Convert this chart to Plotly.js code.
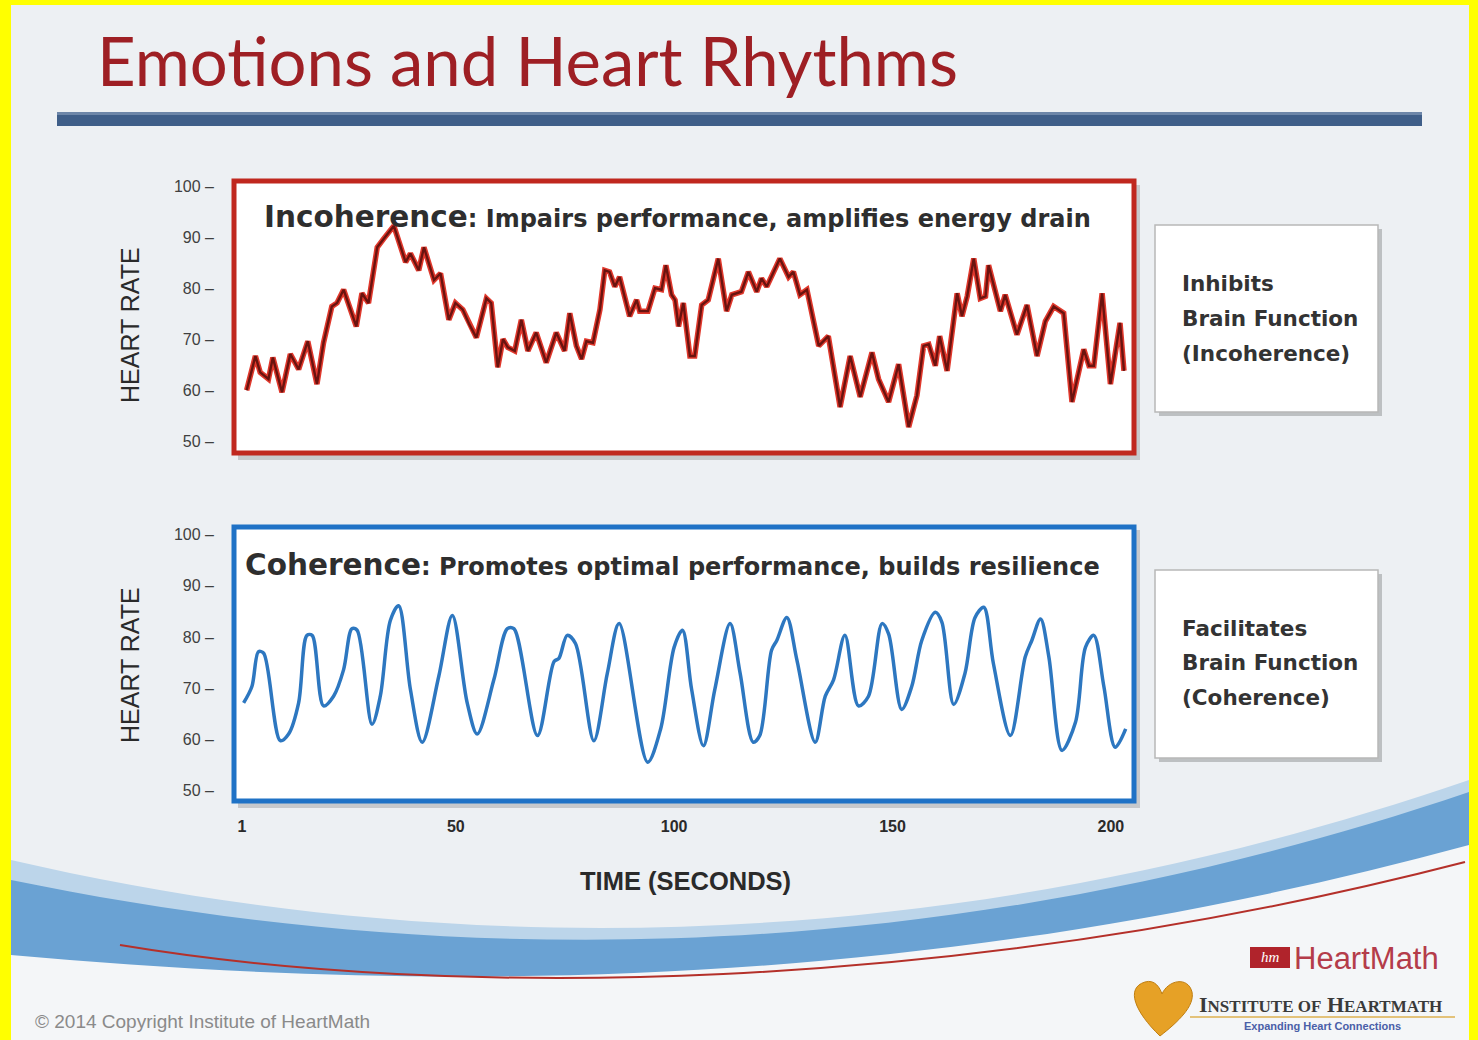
<!DOCTYPE html>
<html>
<head>
<meta charset="utf-8">
<script src="https://cdn.plot.ly/plotly-3.0.1.min.js"></script>
<style>html,body{margin:0;padding:0;background:#ffff00;}#chart{width:1478px;height:1040px;}</style>
</head>
<body>
<div id="chart"></div>
<script>
// ---- data ----
const incoTime = [2.1,4.1,5.2,7.1,8.1,10.2,12.1,14.0,16.1,18.2,19.7,21.6,22.8,24.3,27.2,28.5,30.0,32.0,33.5,35.8,38.5,39.6,41.5,42.7,45.0,46.5,48.4,49.9,51.6,53.1,54.7,57.0,58.1,59.6,60.8,61.9,63.5,65.0,66.5,68.4,70.7,73.0,74.9,76.1,77.6,78.8,79.9,81.4,83.0,84.1,85.2,86.4,87.5,89.8,91.4,92.1,94.0,95.6,97.1,98.1,99.4,100.2,101.0,102.1,103.6,104.7,106.3,107.8,110.1,112.0,113.2,115.4,117.0,118.9,120.0,121.2,124.2,126.2,127.3,128.8,130.4,133.1,135.3,138.0,140.3,142.6,145.3,146.8,149.1,151.4,153.7,155.6,157.1,158.3,159.8,160.8,162.5,164.8,165.9,167.1,168.6,170.1,171.3,172.0,174.7,175.8,178.5,180.8,183.1,185.0,186.9,189.2,191.1,193.8,195.0,196.1,198.0,199.9,202.1,203.0];
const incoHR = [60.0,66.7,63.5,62.2,66.4,59.6,67.1,64.1,69.6,61.2,69.3,76.4,77.1,79.7,72.5,79.0,77.1,88.0,89.7,92.2,85.1,86.8,83.5,88.0,81.6,82.9,73.8,77.1,75.8,72.9,70.3,78.0,77.1,64.5,70.0,68.4,67.7,73.8,67.7,71.3,65.4,71.3,67.7,75.1,68.7,66.1,69.6,69.3,75.8,83.5,83.2,80.3,82.2,74.5,77.7,75.5,75.5,80.0,79.7,84.5,78.7,77.7,72.5,77.1,66.7,66.7,76.7,77.7,85.8,75.5,78.7,79.3,83.2,79.3,81.9,80.3,85.8,82.2,83.2,78.7,79.7,68.7,70.6,56.7,66.7,58.7,67.4,62.2,57.7,65.1,52.8,59.0,68.7,69.0,64.8,70.6,63.8,79.0,74.5,78.4,85.8,78.0,78.4,84.5,75.5,78.7,70.9,76.7,66.7,73.5,76.4,75.1,57.7,68.0,64.8,64.8,79.0,61.2,73.2,63.8];
const coTime = [1.4,3.3,4.8,6.0,9.8,11.7,14.0,15.9,17.1,19.7,22.0,24.3,26.2,27.4,30.8,32.7,35.0,36.9,39.6,42.3,46.1,49.2,52.6,54.9,58.7,61.8,63.3,68.7,72.5,73.6,75.5,77.4,81.6,84.7,87.4,93.9,96.9,100.0,101.9,104.0,106.7,109.3,112.8,115.1,118.1,119.6,122.3,123.5,125.8,128.1,132.3,134.6,136.5,139.1,142.2,144.5,147.6,149.1,152.1,154.4,156.7,159.8,161.3,164.0,166.6,168.9,170.9,173.1,177.0,180.4,181.9,183.9,185.8,188.8,191.9,194.2,196.1,198.4,201.0,203.4];
const coHR = [67.1,70.3,77.1,76.8,59.7,61.0,67.1,80.3,80.3,66.5,68.4,73.6,81.6,81.3,62.9,68.4,83.2,86.1,69.7,59.4,72.3,84.2,67.1,61.0,71.6,81.6,81.6,60.7,75.2,75.8,80.3,78.7,59.7,72.9,82.6,55.5,62.0,78.0,81.3,69.7,58.7,69.7,82.6,72.9,59.4,60.7,77.4,79.3,83.8,75.5,59.4,68.4,71.6,80.3,66.5,68.4,82.6,80.6,65.8,70.3,79.3,84.8,82.9,66.8,72.9,83.8,85.8,74.8,60.7,76.1,79.3,83.5,76.1,57.8,63.3,78.0,80.3,70.3,58.4,62.0];
const yTicks = [50,60,70,80,90,100];
const yTickText = ["50 –","60 –","70 –","80 –","90 –","100 –"];
const xTicks = [1,50,100,150,200];
const xTickText = ["1","50","100","150","200"];
const titleText = "Emotions and Heart Rhythms";
const incoHead = "<span style='font-size:29.5px'>Incoherence</span>: Impairs performance, amplifies energy drain";
const coHead = "<span style='font-size:29.5px'>Coherence</span>: Promotes optimal performance, builds resilience";
const sideTop = ["Inhibits","Brain Function","(Incoherence)"];
const sideBot = ["Facilitates","Brain Function","(Coherence)"];

// ---- helpers (pixel -> paper) ----
const W = 1478, H = 1040;
const px = x => x / W;
const py = y => 1 - y / H;

const traces = [
  {x: incoTime, y: incoHR, xaxis:'x', yaxis:'y', mode:'lines', line:{color:'#e0382c', width:5.5}, hoverinfo:'skip'},
  {x: incoTime, y: incoHR, xaxis:'x', yaxis:'y', mode:'lines', line:{color:'#6a130f', width:2.4}, hoverinfo:'skip'},
  {x: coTime, y: coHR, xaxis:'x2', yaxis:'y2', mode:'lines', line:{color:'#2d77c0', width:3.5, shape:'spline', smoothing:0.9}, hoverinfo:'skip'}
];

const tickFont = {family:'Liberation Sans, Arial, sans-serif', size:16, color:'#404040'};
const xRange = [-0.8, 205.3];

function rectShape(x0,y0,x1,y1,opts){
  return Object.assign({type:'rect', xref:'paper', yref:'paper', x0:px(x0), x1:px(x1), y0:py(y1), y1:py(y0)}, opts);
}
function pathShape(d, opts){
  return Object.assign({type:'path', xref:'paper', yref:'paper', path:d}, opts);
}

const shapes = [
  // slide background
  rectShape(11,5,1469,1040,{fillcolor:'#edf0f3', line:{width:0}, layer:'below'}),
  // header bar
  rectShape(57,112,1422,126,{fillcolor:'#3f5e88', line:{width:0}, layer:'below'}),
  rectShape(57,112,1422,115,{fillcolor:'#6d86a8', line:{width:0}, layer:'below'}),
  // swoosh: pale outer band
  pathShape(`M ${px(11)} ${py(860)} C ${px(400)} ${py(950)}, ${px(900)} ${py(975)}, ${px(1469)} ${py(780)} L ${px(1469)} ${py(1040)} L ${px(11)} ${py(1040)} Z`,
   {fillcolor:'#bcd5ea', line:{width:0}, layer:'below'}),
  // swoosh: blue core
  pathShape(`M ${px(11)} ${py(880)} C ${px(400)} ${py(960)}, ${px(900)} ${py(985)}, ${px(1469)} ${py(792)} L ${px(1469)} ${py(1040)} L ${px(11)} ${py(1040)} Z`,
   {fillcolor:'#6aa2d3', line:{width:0}, layer:'below'}),
  // swoosh: white lower area
  pathShape(`M ${px(11)} ${py(955)} C ${px(400)} ${py(990)}, ${px(900)} ${py(1000)}, ${px(1469)} ${py(845)} L ${px(1469)} ${py(1040)} L ${px(11)} ${py(1040)} Z`,
   {fillcolor:'#f4f6f8', line:{width:0}, layer:'below'}),
  // red accent lines
  pathShape(`M ${px(120)} ${py(945)} C ${px(450)} ${py(1000)}, ${px(950)} ${py(995)}, ${px(1465)} ${py(862)}`,
   {line:{color:'#b4302a', width:2}, layer:'below'}),
  // panel shadows
  rectShape(238,185,1140,460,{fillcolor:'rgba(0,0,0,0.16)', line:{width:0}, layer:'below'}),
  rectShape(238,530,1140,808,{fillcolor:'rgba(0,0,0,0.16)', line:{width:0}, layer:'below'}),
  // panel fills
  rectShape(234,181,1134,453,{fillcolor:'#ffffff', line:{width:0}, layer:'below'}),
  rectShape(234,527,1134,801,{fillcolor:'#ffffff', line:{width:0}, layer:'below'}),
  // panel borders
  rectShape(234,181,1134,453,{line:{color:'#c0281f', width:5}, layer:'above'}),
  rectShape(234,527,1134,801,{line:{color:'#1f72c6', width:5}, layer:'above'}),
  // side boxes
  rectShape(1159,229,1382,416,{fillcolor:'rgba(0,0,0,0.2)', line:{width:0}, layer:'below'}),
  rectShape(1155,225,1378,412,{fillcolor:'#ffffff', line:{color:'#b8b8b8', width:1.5}, layer:'below'}),
  rectShape(1159,574,1382,762,{fillcolor:'rgba(0,0,0,0.2)', line:{width:0}, layer:'below'}),
  rectShape(1155,570,1378,758,{fillcolor:'#ffffff', line:{color:'#b8b8b8', width:1.5}, layer:'below'}),
  // logo mark
  rectShape(1250,947,1290,968,{fillcolor:'#b0232b', line:{width:0}, layer:'above'}),
  pathShape(`M ${px(1160)} ${py(1036)} C ${px(1135)} ${py(1012)}, ${px(1125)} ${py(988)}, ${px(1145)} ${py(982)} C ${px(1155)} ${py(979)}, ${px(1160)} ${py(988)}, ${px(1162)} ${py(994)} C ${px(1168)} ${py(980)}, ${px(1188)} ${py(976)}, ${px(1192)} ${py(992)} C ${px(1195)} ${py(1006)}, ${px(1178)} ${py(1022)}, ${px(1160)} ${py(1036)} Z`,
   {fillcolor:'#e6a126', line:{color:'#c07e10', width:1}, layer:'above'}),
  rectShape(1190,1016,1455,1018,{fillcolor:'#e3c27a', line:{width:0}, layer:'above'})
];

const ann = [];
function txt(text,x,y,font,opts){ ann.push(Object.assign({text, x:px(x), y:py(y), xref:'paper', yref:'paper', showarrow:false, xanchor:'left', yanchor:'middle', font}, opts||{})); }

txt(titleText, 95, 60, {family:'Lato, Open Sans, sans-serif', size:67, color:'#9e1f24'});
const headFont = {family:'DejaVu Sans, sans-serif', size:24, color:'#2e2e2e', weight:700};
txt(incoHead, 262, 217, headFont);
txt(coHead, 243, 565, headFont);
const sideFont = {family:'DejaVu Sans, sans-serif', size:21.5, color:'#333333', weight:700};
sideTop.forEach((s,i)=>txt(s, 1180, 284 + i*34.5, sideFont));
sideBot.forEach((s,i)=>txt(s, 1180, 628 + i*34.5, sideFont));
txt('HEART RATE', 130, 325, {family:'Liberation Sans, Arial, sans-serif', size:25, color:'#2a2a2a'}, {xanchor:'center', textangle:-90});
txt('HEART RATE', 130, 665, {family:'Liberation Sans, Arial, sans-serif', size:25, color:'#2a2a2a'}, {xanchor:'center', textangle:-90});
txt('<b>TIME (SECONDS)</b>', 685, 881, {family:'Liberation Sans, Arial, sans-serif', size:25.5, color:'#2a2a2a'}, {xanchor:'center'});
txt('© 2014 Copyright Institute of HeartMath', 33, 1021, {family:'Liberation Sans, Arial, sans-serif', size:19, color:'#8a8a8a'});
txt('<i>hm</i>', 1270, 957, {family:'Liberation Serif, serif', size:15, color:'#ffffff'}, {xanchor:'center'});
txt('HeartMath', 1292, 958, {family:'Liberation Sans, Arial, sans-serif', size:31, color:'#b43c4a'});
txt('<b>I<span style="font-size:17px">NSTITUTE OF</span> H<span style="font-size:17px">EARTMATH</span></b>', 1197, 1004, {family:'Liberation Serif, serif', size:22, color:'#3a3a3a'});
txt('<b>Expanding Heart Connections</b>', 1322, 1026, {family:'Liberation Sans, Arial, sans-serif', size:11, color:'#4a5fa8'}, {xanchor:'center'});

const layout = {
  width: W, height: H,
  margin:{l:0,r:0,t:0,b:0},
  paper_bgcolor:'#ffff00',
  plot_bgcolor:'rgba(0,0,0,0)',
  showlegend:false,
  xaxis:{domain:[px(234),px(1134)], range:xRange, anchor:'y', showticklabels:false, showgrid:false, zeroline:false, showline:false, ticks:''},
  yaxis:{domain:[py(453),py(181)], range:[47.7,101], anchor:'x', tickvals:yTicks, ticktext:yTickText, tickfont:tickFont, ticks:'', ticklabelstandoff:19, showgrid:false, zeroline:false, showline:false},
  xaxis2:{domain:[px(234),px(1134)], range:xRange, anchor:'y2', tickvals:xTicks, ticktext:xTickText, tickfont:{family:'Liberation Sans, Arial, sans-serif', size:16, color:'#2a2a2a', weight:700}, ticks:'', ticklabelstandoff:14, showgrid:false, zeroline:false, showline:false},
  yaxis2:{domain:[py(801),py(527)], range:[47.9,101.5], anchor:'x2', tickvals:yTicks, ticktext:yTickText, tickfont:tickFont, ticks:'', ticklabelstandoff:19, showgrid:false, zeroline:false, showline:false},
  shapes, annotations: ann
};

Plotly.newPlot('chart', traces, layout, {staticPlot:true, displayModeBar:false});
</script>
</body>
</html>
